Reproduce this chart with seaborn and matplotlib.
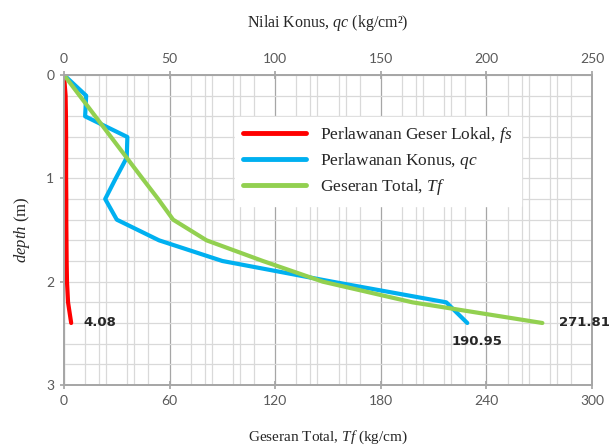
import numpy as np
import pandas as pd
import matplotlib.pyplot as plt
import seaborn as sns
from matplotlib.ticker import MultipleLocator
from matplotlib.lines import Line2D

### data
depth = [0, 0.2, 0.4, 0.6, 0.8, 1.0, 1.2, 1.4, 1.6, 1.8, 2.0, 2.2, 2.4]
fs = [0, 0.9, 1.1, 1.2, 1.2, 1.2, 1.3, 1.3, 1.4, 1.5, 1.7, 2.3, 4.08]
qc = [0, 10.5, 10, 30, 29.7, 24.5, 19.5, 25, 45, 75, 127, 181, 190.95]
tf = [0, 8.9, 17.8, 26.7, 35.6, 44.5, 53.5, 62, 81, 113, 147, 198, 271.81]

labels = ['Perlawanan Geser Lokal, $\\it{fs}$',
          'Perlawanan Konus, $\\it{qc}$',
          'Geseran Total, $\\it{Tf}$']
cols = ['#ff0000', '#00b0f0', '#92d050']

df = pd.DataFrame({'depth': depth, 'fs': fs, 'qc': qc, 'tf': tf})

sns.set_theme(style='white')
plt.rcParams['font.family'] = ['Lato', 'DejaVu Sans']
plt.rcParams['mathtext.fontset'] = 'custom'
plt.rcParams['mathtext.rm'] = 'Liberation Serif'
plt.rcParams['mathtext.it'] = 'Liberation Serif:italic'

serif = 'Liberation Serif'
grey_minor = '#d9d9d9'
grey_major = '#a6a6a6'
tick_col = '#595959'

fig = plt.figure(figsize=(6.09, 4.45), dpi=100)
rect = [64 / 609, 1 - 385 / 445, 528 / 609, 310 / 445]

### grid-only axes (Tf units, minor every 20)
axg = fig.add_axes(rect, zorder=0)
axg.set_xlim(0, 300)
axg.set_ylim(3, 0)
axg.xaxis.set_major_locator(MultipleLocator(60))
axg.xaxis.set_minor_locator(MultipleLocator(20))
axg.yaxis.set_major_locator(MultipleLocator(1))
axg.yaxis.set_minor_locator(MultipleLocator(0.2))
axg.grid(which='major', axis='x', color=grey_major, lw=0.9)
axg.grid(which='minor', axis='x', color=grey_minor, lw=0.9)
axg.grid(which='both', axis='y', color=grey_minor, lw=0.9)
axg.set_xticklabels([])
axg.set_yticklabels([])
axg.tick_params(which='both', length=0)
for s in axg.spines.values():
    s.set_visible(False)

### qc axes (top), minor grid every 10
axq = fig.add_axes(rect, zorder=1)
axq.patch.set_visible(False)
sns.lineplot(data=df, x='qc', y='depth', sort=False, estimator=None, ax=axq,
             color=cols[1], lw=3, legend=False)
axq.set_xlim(0, 250)
axq.set_ylim(3, 0)
axq.xaxis.set_major_locator(MultipleLocator(50))
axq.xaxis.set_minor_locator(MultipleLocator(10))
axq.grid(which='minor', axis='x', color=grey_minor, lw=0.9)
axq.xaxis.tick_top()
axq.xaxis.set_label_position('top')
axq.set_yticks([])
axq.set_ylabel('')
axq.tick_params(axis='x', which='major', direction='inout', length=6, color=grey_major,
                labelcolor=tick_col, labelsize=10, pad=4)
axq.tick_params(axis='x', which='minor', length=0)
axq.set_xlabel('Nilai Konus, $\\it{qc}$ (kg/cm²)', family=serif, fontsize=11.5,
               color='#262626', labelpad=19)
for s in axq.spines.values():
    s.set_color(grey_major)

### Tf axes (bottom) with fs and Tf
ax = fig.add_axes(rect, zorder=2)
ax.patch.set_visible(False)
sns.lineplot(data=df, x='fs', y='depth', sort=False, estimator=None, ax=ax,
             color=cols[0], lw=3, legend=False)
sns.lineplot(data=df, x='tf', y='depth', sort=False, estimator=None, ax=ax,
             color=cols[2], lw=3, legend=False)
ax.set_xlim(0, 300)
ax.set_ylim(3, 0)
ax.xaxis.set_major_locator(MultipleLocator(60))
ax.yaxis.set_major_locator(MultipleLocator(1))
ax.tick_params(which='major', direction='inout', length=6, color=grey_major,
               labelcolor=tick_col, labelsize=10, pad=4, left=True, bottom=True)
ax.set_xlabel('Geseran Total, $\\it{Tf}$ (kg/cm)', family=serif, fontsize=11,
              color='#262626', labelpad=16)
ax.set_ylabel('$\\it{depth}$ (m)', family=serif, fontsize=12, color='#262626',
              labelpad=10)
for s in ax.spines.values():
    s.set_color(grey_major)

### end value labels
ax.annotate(f'{fs[-1]:.2f}', (fs[-1], depth[-1]), xytext=(9, 0), textcoords='offset points',
            ha='left', va='center', fontsize=9.5, fontweight='bold', family='DejaVu Sans',
            color='#262626')
axq.annotate(f'{qc[-1]:.2f}', (qc[-1], depth[-1]), xytext=(7, -13), textcoords='offset points',
             ha='center', va='center', fontsize=9.5, fontweight='bold', family='DejaVu Sans',
             color='#262626')
ax.annotate(f'{tf[-1]:.2f}', (tf[-1], depth[-1]), xytext=(12, 0), textcoords='offset points',
            ha='left', va='center', fontsize=9.5, fontweight='bold', family='DejaVu Sans',
            color='#262626', annotation_clip=False)

### legend
handles = [Line2D([], [], color=c, lw=3.5, solid_capstyle='round') for c in cols]
leg = ax.legend(handles, labels, loc='upper left', bbox_to_anchor=(0.307, 0.894),
                frameon=True, fancybox=False, framealpha=1, edgecolor='white',
                prop={'family': serif, 'size': 12.5}, handlelength=3.6,
                handletextpad=0.8, labelspacing=0.35, borderpad=0.5)
leg.set_zorder(10)

plt.savefig('out.png', dpi=100)
